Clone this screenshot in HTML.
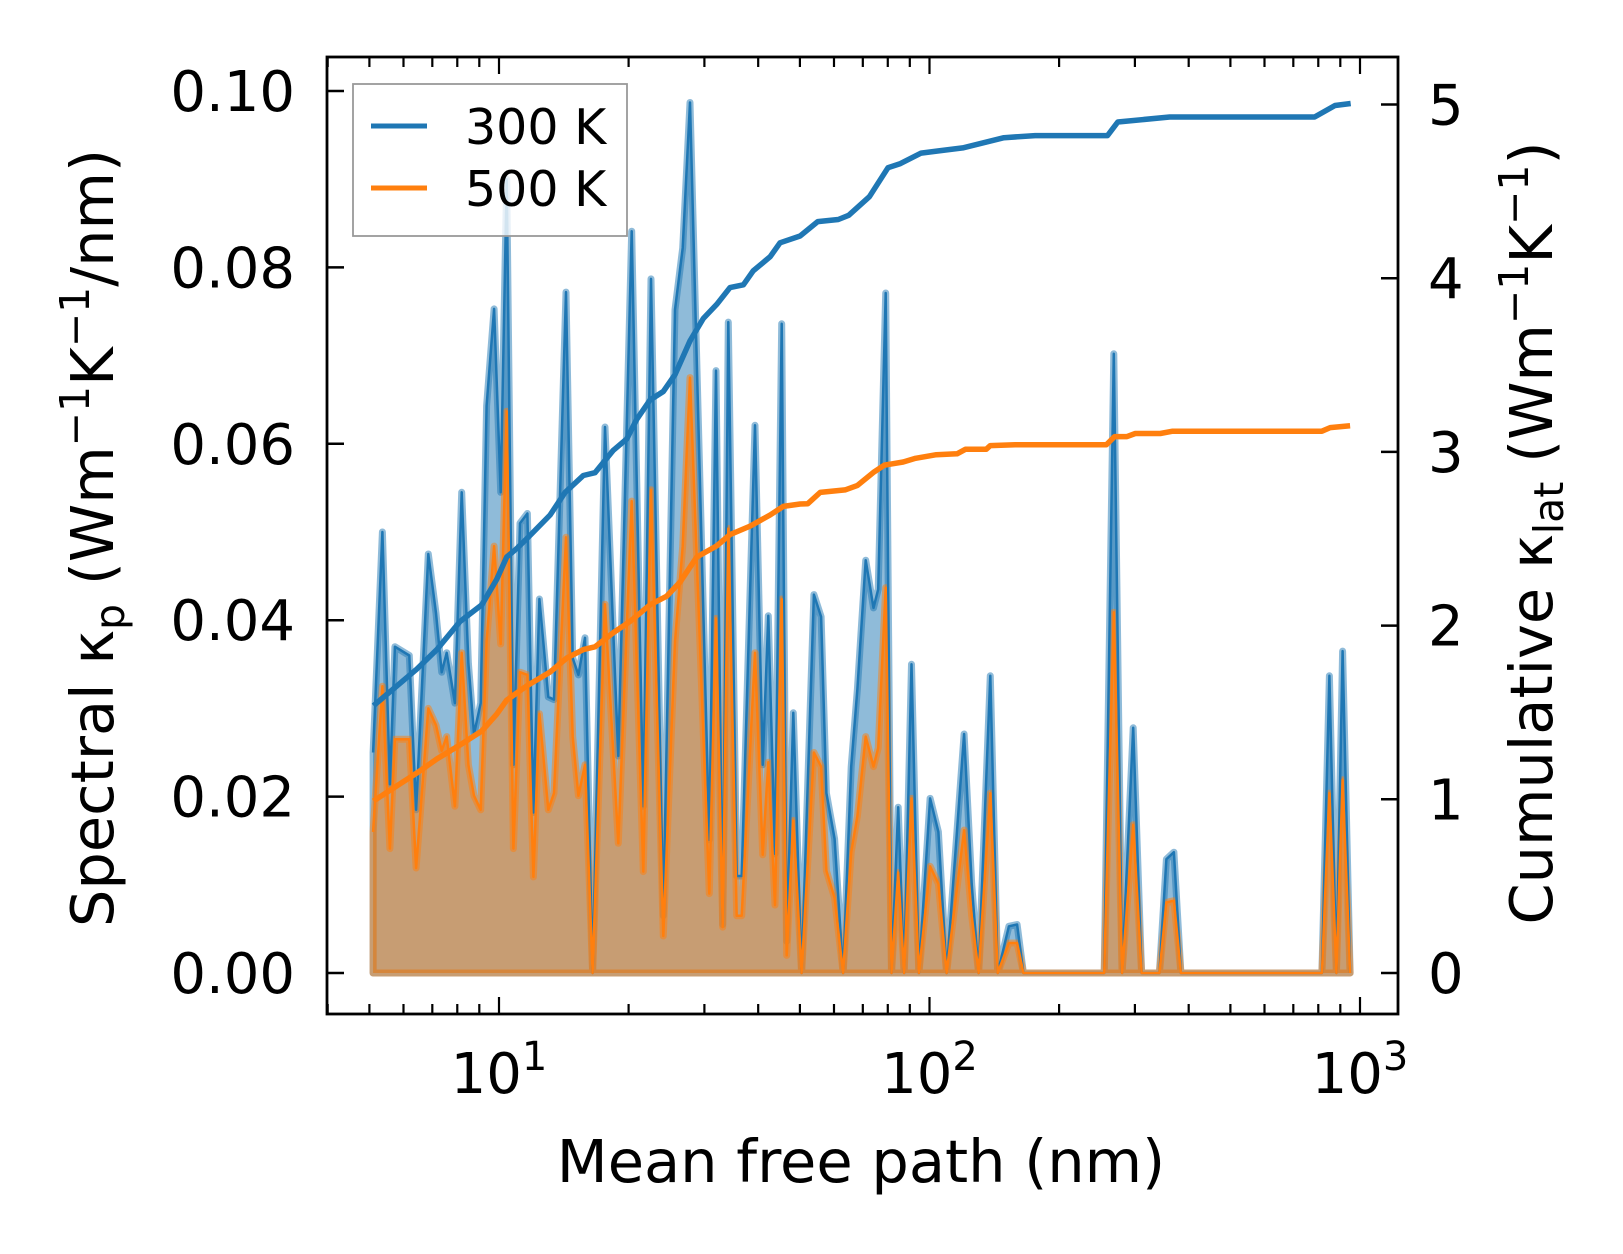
<!DOCTYPE html>
<html><head><meta charset="utf-8">
<style>
html,body{margin:0;padding:0;background:#fff;}
svg{display:block;font-family:"DejaVu Sans","Liberation Sans",sans-serif;}
</style></head>
<body>
<svg id="chart" width="1623" height="1254" viewBox="0 0 1623 1254" xmlns="http://www.w3.org/2000/svg">
<rect x="0" y="0" width="1623" height="1254" fill="#fff"/>
<g id="plot"></g>
<g id="axes"></g>
</svg>
<script>
const mfp = [5.10,5.36,5.58,5.73,6.19,6.42,6.85,7.14,7.36,7.56,7.90,8.19,8.49,8.75,9.07,9.36,9.74,10.09,10.42,10.80,11.19,11.64,12.02,12.41,13.02,13.42,14.31,14.83,15.29,15.84,16.50,17.63,18.93,20.33,21.64,22.55,24.08,25.63,26.71,27.78,30.80,31.92,33.08,34.09,35.65,36.62,39.33,40.98,42.23,43.77,45.37,46.6,48.27,50.45,53.9,56.0,57.6,60.2,63.0,65.8,68.0,71.1,74.1,76.0,79.1,81.6,84.6,87.3,90.8,94.5,100.3,104.9,109.6,120.3,125.3,130.0,138.4,144.0,152.9,159.8,165.2,254.6,268.0,280.2,297.3,310.9,342,355,369.6,383.7,815.6,849,881.5,911.2,948.5];
const k300 = [0.025,0.0500,0.0214,0.0370,0.0360,0.0185,0.0475,0.0408,0.0341,0.0363,0.0306,0.0545,0.0351,0.0271,0.0306,0.0643,0.0753,0.0545,0.0900,0.0236,0.0510,0.0521,0.0182,0.0424,0.0313,0.0310,0.0772,0.0357,0.0338,0.0380,0,0.0619,0.0246,0.0841,0.0189,0.0787,0.0065,0.0752,0.0822,0.0987,0.0151,0.0683,0.0055,0.0738,0.0110,0.0110,0.0621,0.0236,0.0405,0.0135,0.0736,0.0036,0.0295,0,0.0429,0.0404,0.0204,0.0152,0,0.0234,0.0322,0.0468,0.0414,0.0435,0.0771,0,0.0188,0,0.0350,0,0.0198,0.0160,0,0.0271,0.0101,0,0.0337,0,0.0053,0.0055,0,0,0.0702,0,0.0278,0,0,0.0129,0.0137,0,0,0.0337,0,0.0365,0];
const k500 = [0.016,0.0325,0.0141,0.0265,0.0265,0.0119,0.0300,0.0281,0.0252,0.0268,0.0189,0.0363,0.0236,0.0201,0.0185,0.0376,0.0484,0.0373,0.0637,0.0141,0.0341,0.0338,0.0109,0.0294,0.0185,0.0204,0.0494,0.0268,0.0201,0.0236,0,0.0418,0.0147,0.0535,0.0115,0.0548,0.0042,0.0376,0.0484,0.0675,0.0090,0.0402,0.0052,0.0504,0.0065,0.0065,0.0363,0.0134,0.0239,0.0077,0.0424,0.0020,0.0173,0,0.0250,0.0234,0.0116,0.0085,0,0.0137,0.0178,0.0268,0.0234,0.0255,0.0437,0,0.0114,0,0.0198,0,0.0121,0.0101,0,0.0162,0.0065,0,0.0204,0,0.0034,0.0034,0,0,0.0409,0,0.0168,0,0,0.0080,0.0082,0,0,0.0204,0,0.0219,0];
const cumMfp300 = [5.11,6.44,7.17,8.12,9.12,9.88,10.42,10.99,11.80,13.14,14.23,15.70,16.71,18.43,19.80,20.89,22.43,24.08,25.64,27.78,29.83,32.04,34.41,36.95,38.97,42.63,44.96,50.04,55.0,61.4,64.9,72.5,80.1,85.6,95.6,103.9,119.4,148.9,175.9,259.1,273.8,361.3,784.4,874.8,951.5];
const cum300 = [1.539,1.749,1.862,2.024,2.120,2.266,2.395,2.443,2.518,2.637,2.766,2.864,2.880,3.009,3.074,3.187,3.299,3.348,3.445,3.639,3.768,3.849,3.946,3.962,4.043,4.123,4.204,4.243,4.326,4.338,4.362,4.469,4.636,4.660,4.720,4.732,4.750,4.809,4.821,4.821,4.899,4.928,4.928,4.994,5.006];
const cumMfp500 = [5.11,6.44,7.17,8.12,9.12,9.88,10.42,11.59,13.14,14.36,15.70,16.71,18.43,20.16,22.43,24.52,26.33,28.80,32.04,34.41,38.30,42.63,45.76,50.04,52.16,55.73,63.68,68.04,74.34,78.62,86.87,92.84,103.7,115.9,121.2,135.4,138.4,158.1,257.4,269.2,287.6,300.7,343.6,367.0,815.6,852.7,948.4];
const cum500 = [0.990,1.151,1.232,1.313,1.393,1.490,1.571,1.652,1.733,1.813,1.862,1.878,1.959,2.024,2.120,2.169,2.250,2.395,2.459,2.524,2.573,2.637,2.686,2.700,2.702,2.767,2.781,2.807,2.885,2.924,2.942,2.963,2.984,2.989,3.015,3.015,3.036,3.041,3.041,3.088,3.088,3.106,3.106,3.119,3.119,3.140,3.151];
const leftTicks = [0,0.02,0.04,0.06,0.08,0.10];
const leftTickLabels = ["0.00","0.02","0.04","0.06","0.08","0.10"];
const rightTicks = [0,1,2,3,4,5];
const rightTickLabels = ["0","1","2","3","4","5"];
const xMajor = [10,100,1000];
const xMajorExp = ["1","2","3"];

const NS = "http://www.w3.org/2000/svg";
const L=327, R=1398, T=57, B=1014;
function xS(m){return 499 + 430.5*(Math.log10(m)-1);}
function yL(v){return 973 - 8820*v;}
function yR(v){return 973 - 173.7*v;}
function mk(tag, attrs, parent){const e=document.createElementNS(NS,tag);for(const k in attrs)e.setAttribute(k,attrs[k]);parent.appendChild(e);return e;}
const plot=document.getElementById('plot'), axes=document.getElementById('axes');
const BLUE="#1f77b4", ORANGE="#ff7f0e";

function fillPath(vals){
  let d="M"+xS(mfp[0]).toFixed(1)+","+yL(0).toFixed(1);
  for(let i=0;i<mfp.length;i++) d+="L"+xS(mfp[i]).toFixed(1)+","+yL(vals[i]).toFixed(1);
  d+="L"+xS(mfp[mfp.length-1]).toFixed(1)+","+yL(0).toFixed(1)+"Z";
  return d;
}
function linePath(xs, vals, yf){
  let d="";
  for(let i=0;i<xs.length;i++) d+=(i?"L":"M")+xS(xs[i]).toFixed(1)+","+yf(vals[i]).toFixed(1);
  return d;
}
const f3=mk('path',{d:fillPath(k300),fill:BLUE,'fill-opacity':0.5,stroke:BLUE,'stroke-opacity':0.5,'stroke-width':7,'stroke-linejoin':'round'},plot);


const f5=mk('path',{d:fillPath(k500),fill:ORANGE,'fill-opacity':0.5,stroke:ORANGE,'stroke-opacity':0.5,'stroke-width':7,'stroke-linejoin':'round'},plot);


const l3=mk('path',{d:linePath(mfp,k300,yL),fill:'none',stroke:BLUE,'stroke-width':2.5,'stroke-linejoin':'round'},plot);


const l5=mk('path',{d:linePath(mfp,k500,yL),fill:'none',stroke:ORANGE,'stroke-width':2.5,'stroke-linejoin':'round'},plot);


const c3=mk('path',{d:linePath(cumMfp300,cum300,yR),fill:'none',stroke:BLUE,'stroke-width':5.5,'stroke-linejoin':'round'},plot);


const c5=mk('path',{d:linePath(cumMfp500,cum500,yR),fill:'none',stroke:ORANGE,'stroke-width':5.5,'stroke-linejoin':'round'},plot);



const sp=mk('rect',{x:L,y:T,width:R-L,height:B-T,fill:'none',stroke:'#000','stroke-width':2.8},axes);


leftTicks.forEach((v,i)=>{
  const y=yL(v);
  const t=mk('line',{x1:L,x2:L+17,y1:y,y2:y,stroke:'#000','stroke-width':2.5},axes);
  
  
  const tx=mk('text',{x:295,y:y+20,'text-anchor':'end','font-size':56},axes);
  tx.textContent=leftTickLabels[i];
  
  
});
rightTicks.forEach((v,i)=>{
  const y=yR(v);
  const t=mk('line',{x1:R-17,x2:R,y1:y,y2:y,stroke:'#000','stroke-width':2.5},axes);
  
  
  const tx=mk('text',{x:1428,y:y+20,'text-anchor':'start','font-size':56},axes);
  tx.textContent=rightTickLabels[i];
  
  
});
for(let dec=1; dec<=1000; dec*=10){
  for(let k=1;k<=9;k++){
    const m=dec*k; const x=xS(m);
    if(x<L||x>R) continue;
    const len = k===1?17:10;
    const b=mk('line',{x1:x,x2:x,y1:B,y2:B-len,stroke:'#000','stroke-width':2.2},axes);
    
    
    const t=mk('line',{x1:x,x2:x,y1:T,y2:T+len,stroke:'#000','stroke-width':2.2},axes);
    
    
  }
}
xMajor.forEach((m,i)=>{
  const x=xS(m);
  const tx=mk('text',{x:x,y:1093,'text-anchor':'middle','font-size':56},axes);
  
  
  const a=document.createElementNS(NS,'tspan'); a.textContent='10'; tx.appendChild(a);
  const s=document.createElementNS(NS,'tspan'); s.setAttribute('dy','-23'); s.setAttribute('font-size','40'); s.textContent=xMajorExp[i]; tx.appendChild(s);
});
</script>
<svg style="position:absolute;left:0;top:0" width="1623" height="1254" viewBox="0 0 1623 1254" xmlns="http://www.w3.org/2000/svg" font-family="DejaVu Sans, Liberation Sans, sans-serif">
<g>
<rect x="353" y="84" width="274" height="152" fill="#fff" fill-opacity="0.8" stroke="#999" stroke-width="1.8"/>
<line x1="371" y1="126" x2="427" y2="126" stroke="#1f77b4" stroke-width="5"/>
<text x="465" y="144" font-size="49">300 K</text>
<line x1="371" y1="188" x2="427" y2="188" stroke="#ff7f0e" stroke-width="5"/>
<text x="465" y="206" font-size="49">500 K</text>
</g>
<text x="861" y="1182" text-anchor="middle" font-size="59">Mean free path (nm)</text>
<text transform="translate(113,538) rotate(-90)" text-anchor="middle" font-size="59">Spectral κ<tspan font-size="41" dy="11">p</tspan><tspan dy="-11"> (Wm</tspan><tspan font-size="41" dy="-24">−1</tspan><tspan dy="24">K</tspan><tspan font-size="41" dy="-24">−1</tspan><tspan dy="24">/nm)</tspan></text>
<text transform="translate(1552,533) rotate(-90)" text-anchor="middle" font-size="59">Cumulative κ<tspan font-size="41" dy="11">lat</tspan><tspan dy="-11"> (Wm</tspan><tspan font-size="41" dy="-24">−1</tspan><tspan dy="24">K</tspan><tspan font-size="41" dy="-24">−1</tspan><tspan dy="24">)</tspan></text>
</svg>
</body></html>
